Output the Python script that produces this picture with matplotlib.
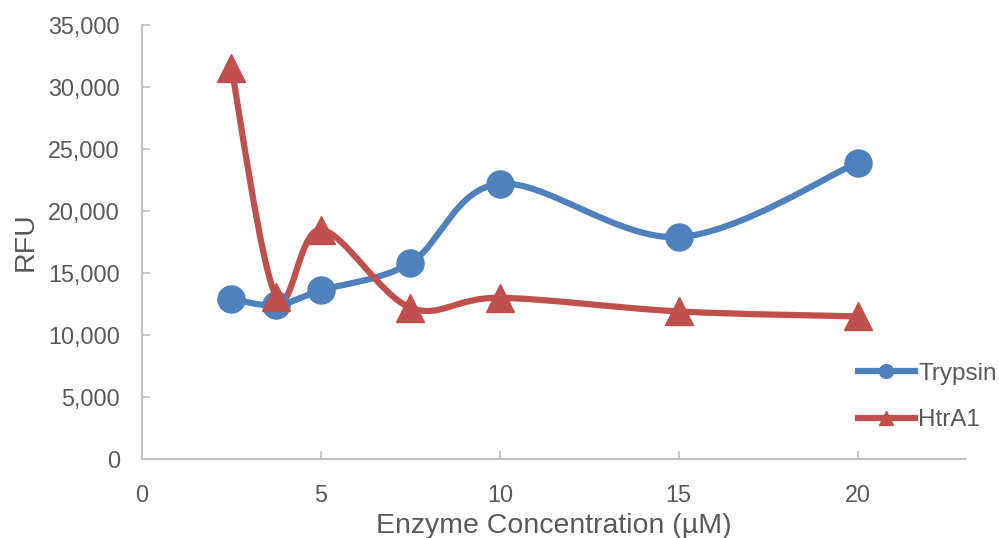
import numpy as np
import matplotlib.pyplot as plt
from matplotlib.path import Path
from matplotlib.patches import PathPatch
from matplotlib.lines import Line2D

# enzyme concentration (uM)
conc = [2.5, 3.75, 5, 7.5, 10, 15, 20]
# relative fluorescence units
trypsin = [12900, 12400, 13600, 15800, 22200, 17900, 23900]
htra1 = [31500, 13100, 18500, 12200, 13000, 11900, 11500]

blue = "#4F81BD"
red = "#C0504D"
grey = "#595959"

plt.rcParams['font.family'] = ['Liberation Sans', 'DejaVu Sans']

fig = plt.figure(figsize=(9.99, 5.38), dpi=100)
ax = fig.add_axes([142/999, 1-459/538, (965-142)/999, (459-25)/538])
ax.set_xlim(0, 23)
ax.set_ylim(0, 35000)


def smooth_path(xs, ys):
    # excel-like bezier smoothing done in display space
    pts = ax.transData.transform(np.column_stack([xs, ys]))
    n = len(pts)
    verts = [pts[0]]
    codes = [Path.MOVETO]
    for i in range(n - 1):
        p0 = pts[i - 1] if i > 0 else pts[i]
        p1 = pts[i]
        p2 = pts[i + 1]
        p3 = pts[i + 2] if i + 2 < n else pts[i + 1]
        c1 = p1 + (p2 - p0) / 6
        c2 = p2 - (p3 - p1) / 6
        verts += [c1, c2, p2]
        codes += [Path.CURVE4] * 3
    verts = ax.transData.inverted().transform(np.array(verts))
    return Path(verts, codes)


for ys, col, mk, ms in [(trypsin, blue, 'o', 19.5), (htra1, red, '^', 20)]:
    ax.add_patch(PathPatch(smooth_path(conc, ys), fc='none', ec=col, lw=4.5,
                           capstyle='round', joinstyle='round', zorder=3))
    ax.plot(conc, ys, ls='none', marker=mk, ms=ms, color=col, mec=col, zorder=4)

ax.set_xticks([0, 5, 10, 15, 20])
ax.set_yticks(range(0, 35001, 5000))
ax.set_yticklabels([f"{v:,}" for v in range(0, 35001, 5000)])

for s in ['top', 'right']:
    ax.spines[s].set_visible(False)
for s in ['left', 'bottom']:
    ax.spines[s].set_color('#BFBFBF')
    ax.spines[s].set_linewidth(1.5)
ax.tick_params(direction='in', length=6, width=1.2, color='#BFBFBF',
               labelsize=16.8, labelcolor=grey)
ax.tick_params(axis='y', pad=16)
ax.tick_params(axis='x', pad=18)

ax.set_xlabel("Enzyme Concentration (µM)", fontsize=20.5, color=grey, labelpad=4)
ax.set_ylabel("RFU", fontsize=20.5, color=grey, labelpad=7)

handles = [Line2D([], [], color=blue, lw=4.5, marker='o', ms=10),
           Line2D([], [], color=red, lw=4.5, marker='^', ms=10)]
leg = fig.legend(handles, ["Trypsin", "HtrA1"], loc='center left',
                 bbox_to_anchor=(848/999, 1-397/538), frameon=False,
                 fontsize=17.5, handlelength=2.35, handletextpad=0.15,
                 labelspacing=1.0, borderaxespad=0)
for t in leg.get_texts():
    t.set_color(grey)

fig.savefig("out.png", dpi=100)
